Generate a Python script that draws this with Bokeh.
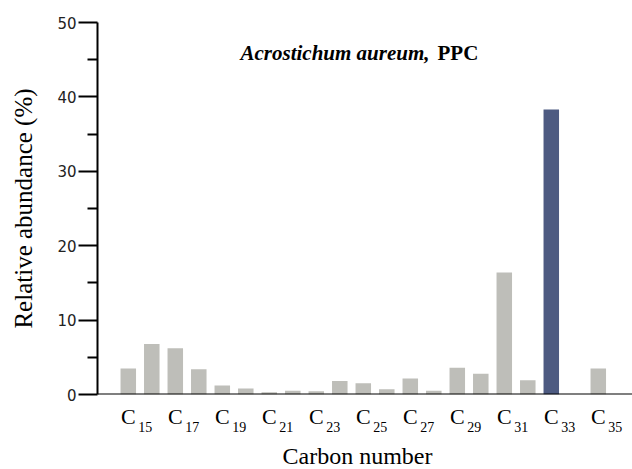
from bokeh.plotting import figure
from bokeh.layouts import column
from bokeh.models import Range1d, FixedTicker, Label, Span, ColumnDataSource
from bokeh.embed import file_html
from bokeh.resources import INLINE

# ---- data ----
carbon = list(range(15, 36))
abundance = [3.5, 6.8, 6.2, 3.4, 1.2, 0.8, 0.3, 0.5, 0.45, 1.8, 1.5, 0.7,
             2.15, 0.5, 3.6, 2.8, 16.4, 1.9, 38.3, 0.0, 3.5]
tick_carbons = [15, 17, 19, 21, 23, 25, 27, 29, 31, 33, 35]
tick_main = ["C"] * len(tick_carbons)
tick_sub = [str(c) for c in tick_carbons]
y_major = [0, 10, 20, 30, 40, 50]
y_minor = [5, 15, 25, 35, 45]
highlight = 33

GRAY = "#bebeb9"
BLUE = "#4d5a81"
colors = [BLUE if c == highlight else GRAY for c in carbon]

W, H = 632, 469
left, top = 97, 22
axis_py = 394                      # pixel row of value 0
pad_bottom = 10
main_h = axis_py + pad_bottom
low_h = H - main_h
px_per_unit = 23.5
py_per_unit = (axis_py - top) / 50.0
x0 = 13.69
x1 = x0 + (W - left) / px_per_unit
xr = Range1d(x0, x1)


def sx(px):
    return x0 + (px - left) / px_per_unit


def sy(py):
    return (axis_py - py) / py_per_unit


# ---------------- main plot ----------------
p = figure(width=W, height=main_h, output_backend="svg", toolbar_location=None,
           x_range=xr, y_range=Range1d(0, 50),
           min_border_left=left, min_border_right=0,
           min_border_top=top, min_border_bottom=pad_bottom)
p.outline_line_color = None
p.grid.visible = False
p.xaxis.visible = False
p.background_fill_color = "white"
p.border_fill_color = "white"

src = ColumnDataSource(dict(x=carbon, top=abundance, color=colors))
p.vbar(x="x", top="top", bottom=0, width=0.66, fill_color="color",
       line_color=None, source=src)

# x axis line at 0
p.add_layout(Span(location=0, dimension="width", line_color="black", line_width=2))

ya = p.yaxis[0]
ya.ticker = FixedTicker(ticks=y_major, minor_ticks=y_minor)
ya.axis_line_width = 2
ya.axis_line_color = "black"
ya.major_tick_line_width = 2
ya.minor_tick_line_width = 2
ya.major_tick_line_color = "black"
ya.minor_tick_line_color = "black"
ya.major_tick_out = 19
ya.major_tick_in = 0
ya.minor_tick_out = 10
ya.minor_tick_in = 0
ya.major_label_text_font = "DejaVu Sans"
ya.major_label_text_font_size = "15px"
ya.major_label_text_color = "#222222"
ya.major_label_standoff = 2
ya.axis_label = "Relative abundance (%)"
ya.axis_label_text_font = "Liberation Serif"
ya.axis_label_text_font_size = "25px"
ya.axis_label_text_font_style = "normal"
ya.axis_label_text_color = "black"
ya.axis_label_standoff = 17

# title (italic bold species name + bold sample code)
p.add_layout(Label(x=sx(240), y=sy(52.5), text="Acrostichum aureum,",
                   text_font="Liberation Serif", text_font_size="21px",
                   text_font_style="bold italic", text_color="black",
                   text_align="left", text_baseline="alphabetic"))
p.add_layout(Label(x=sx(437), y=sy(52.5), text="PPC",
                   text_font="Liberation Serif", text_font_size="21px",
                   text_font_style="bold", text_color="black",
                   text_align="left", text_baseline="alphabetic"))

# ---------------- x tick labels + x title strip ----------------
q = figure(width=W, height=low_h, output_backend="svg", toolbar_location=None,
           x_range=xr, y_range=Range1d(0, low_h),
           min_border_left=left, min_border_right=0,
           min_border_top=0, min_border_bottom=0)
q.outline_line_color = None
q.grid.visible = False
q.axis.visible = False
q.background_fill_color = "white"
q.border_fill_color = "white"


def ly(py):
    return H - py


lab_src = ColumnDataSource(dict(x=tick_carbons, main=tick_main, sub=tick_sub))
q.text(x="x", y=ly(416), text="main", source=lab_src,
       text_font={"value": "Liberation Serif"}, text_font_size="22px",
       text_color="black", text_align="center", text_baseline="alphabetic")
q.text(x="x", y=ly(426.5), text="sub", source=lab_src, x_offset=10,
       text_font={"value": "Liberation Serif"}, text_font_size="14px",
       text_color="black", text_align="left", text_baseline="alphabetic")

q.add_layout(Label(x=sx(357), y=ly(455), text="Carbon number",
                   text_font="Liberation Serif", text_font_size="24px",
                   text_color="black", text_align="center",
                   text_baseline="alphabetic"))

layout = column(p, q, spacing=0)
open("out.html", "w").write(file_html(layout, INLINE))
